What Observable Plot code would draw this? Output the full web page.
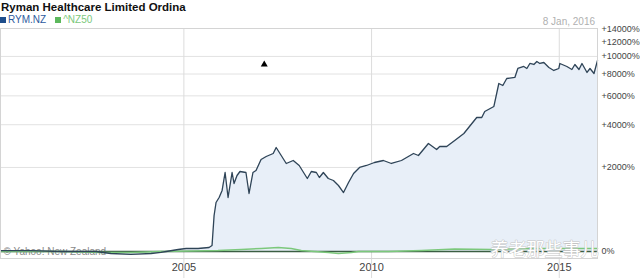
<!DOCTYPE html>
<html><head><meta charset="utf-8">
<script src="https://cdn.jsdelivr.net/npm/d3@7"></script>
<script src="https://cdn.jsdelivr.net/npm/@observablehq/plot@0.6"></script>
<style>
body{margin:0;background:#fff;font-family:"Liberation Sans",Arial,sans-serif;}
#wrap{width:640px;height:278px;position:relative;overflow:hidden}
#title{position:absolute;left:1px;top:1px;font-weight:bold;font-size:11.5px;color:#111;white-space:nowrap;z-index:2}
#legend{position:absolute;left:0;top:14px;font-size:10px;white-space:nowrap;z-index:2}
#legend span.sw{display:inline-block;width:6px;height:6px;margin-right:2px;vertical-align:0px}
#date{position:absolute;right:45px;top:16px;font-size:10px;color:#b0b0b0;z-index:2}
#chart{position:absolute;left:0;top:0}
</style></head>
<body>
<div id="wrap">
  <div id="title">Ryman Healthcare Limited Ordina</div>
  <div id="legend"><span class="sw" style="background:#1f4e8c"></span><span style="color:#2c5a9e">RYM.NZ</span><span style="display:inline-block;width:9px"></span><span class="sw" style="background:#5cb85c"></span><span style="color:#7cc87c">^NZ50</span></div>
  <div id="date">8 Jan, 2016</div>
  <div id="chart"></div>
</div>
<script>
// RYM.NZ percent change
const rymDates = ["2000-02-13","2000-12-01","2001-09-20","2002-08-28","2003-01-22","2003-08-05","2004-02-17","2004-05-23","2004-07-13","2004-11-07","2005-01-23","2005-05-19","2005-09-03","2005-10-02","2005-10-22","2005-11-10","2005-12-10","2006-01-08","2006-02-06","2006-03-07","2006-04-15","2006-05-04","2006-06-02","2006-07-01","2006-08-28","2006-09-27","2006-11-04","2006-12-04","2007-01-22","2007-03-13","2007-05-20","2007-06-18","2007-08-06","2007-09-24","2007-12-01","2008-01-28","2008-04-16","2008-05-25","2008-07-13","2008-08-11","2008-09-19","2008-11-06","2008-12-26","2009-02-13","2009-04-03","2009-05-22","2009-07-10","2009-09-06","2009-11-13","2010-01-29","2010-04-26","2010-07-13","2010-10-19","2011-02-13","2011-04-02","2011-07-08","2011-09-26","2011-10-26","2012-01-02","2012-03-20","2012-06-17","2012-09-03","2012-10-20","2012-12-08","2013-01-06","2013-04-05","2013-05-23","2013-07-01","2013-08-08","2013-10-26","2013-11-24","2014-01-21","2014-02-20","2014-03-21","2014-04-29","2014-05-28","2014-06-26","2014-08-04","2014-09-22","2014-11-09","2014-12-28","2015-01-07","2015-03-16","2015-05-04","2015-06-02","2015-07-12","2015-08-10","2015-09-28","2015-10-27","2015-12-05","2016-01-08"];
const rymValues = [14,14,0,0,-29,-43,-29,-14,0,29,44,44,59,89,638,938,1065,1257,1821,1065,1821,1463,1719,1856,1821,1173,1821,1891,2305,2427,2553,2818,2468,2149,2265,2073,1620,1856,1821,1653,1821,1620,1556,1402,1200,1494,1787,1999,2073,2187,2265,2149,2265,2553,2468,3005,2728,2864,2864,3150,3509,4073,4443,4443,4838,5188,7072,6889,7550,7649,8587,8809,8587,9151,9035,9385,9151,9266,8697,8371,8587,9151,8809,8477,9035,8477,9151,8159,8587,8055,9504];
// ^NZ50 percent change
const nzDates = ["2000-02-13","2001-09-20","2002-10-16","2003-08-05","2004-05-23","2005-03-12","2005-11-29","2006-07-13","2007-01-24","2007-07-08","2007-11-11","2008-02-17","2008-06-24","2008-11-07","2009-02-13","2009-06-20","2009-08-27","2010-06-15","2011-05-03","2012-03-20","2013-03-15","2014-04-09","2015-01-27","2016-01-08"];
const nzValues = [0,0,-14,-14,0,7,14,29,44,59,44,14,0,-14,-29,-14,0,0,14,36,29,44,44,44];
// event marker
const markerDates = ["2007-02-22"];
const markerValues = [9035];
// ticks
const yTicks = [0,2000,4000,6000,8000,10000,12000,14000];
const yGrid = [2000,4000,6000,8000,10000];
const xTickYears = [2005,2010,2015];

const rym = rymDates.map((d,i)=>({date:new Date(d), value:rymValues[i]}));
const nz = nzDates.map((d,i)=>({date:new Date(d), value:nzValues[i]}));
const markers = markerDates.map((d,i)=>({date:new Date(d), value:markerValues[i]}));
const xTicks = xTickYears.map(y=>new Date(y,0,1));

const chart = Plot.plot({
  width:640, height:278,
  marginLeft:0, marginRight:43, marginTop:28, marginBottom:20,
  style:{fontFamily:"Liberation Sans, Arial, sans-serif", fontSize:"11px", color:"#444", background:"transparent", overflow:"visible"},
  x:{type:"time", domain:[new Date("2000-02-13"), new Date("2016-01-08")], ticks:xTicks, tickFormat:d3.timeFormat("%Y"), tickSize:0, tickPadding:5, label:null},
  y:{type:"symlog", constant:1300, domain:[0,14000], range:[251,28.6], axis:"right", ticks:yTicks, tickFormat:d=>d===0?"0%":"+"+d+"%", tickSize:0, tickPadding:4, label:null},
  marks:[
    Plot.ruleY(yGrid, {stroke:"#e2e2e2"}),
    Plot.ruleX(xTicks, {stroke:"#dcdcdc", insetBottom:-20}),
    Plot.areaY(rym, {x:"date", y:"value", fill:"#e8eff8"}),
    Plot.text(["© Yahoo! New Zealand"], {frameAnchor:"bottom-left", dx:3, dy:-4, fill:"#8a8a8a", fontSize:10, textAnchor:"start"}),
    Plot.ruleY([0], {stroke:"#3b5e43", strokeWidth:1.5}),
    Plot.line(nz, {x:"date", y:"value", stroke:"#7cc87c", strokeWidth:1.5}),
    Plot.line(rym, {x:"date", y:"value", stroke:"#2f4457", strokeWidth:1.3}),
    Plot.dot(markers, {x:"date", y:"value", symbol:"triangle", r:2.6, fill:"#000"}),
    Plot.frame({stroke:"#d4d4d4"}),
    Plot.text(["养老那些事儿"], {frameAnchor:"bottom-right", dx:1, dy:-8, lineAnchor:"middle", fontSize:18, fontFamily:"Noto Sans CJK SC", fill:"#ffffff", stroke:"#c4c4c4", strokeWidth:1, paintOrder:"stroke"})
  ]
});
chart.querySelectorAll('[aria-label="y-axis"] text, [aria-label="y-axis tick label"] text').forEach(t=>t.setAttribute("font-size","9px"));
document.getElementById("chart").appendChild(chart);
</script>
</body></html>
